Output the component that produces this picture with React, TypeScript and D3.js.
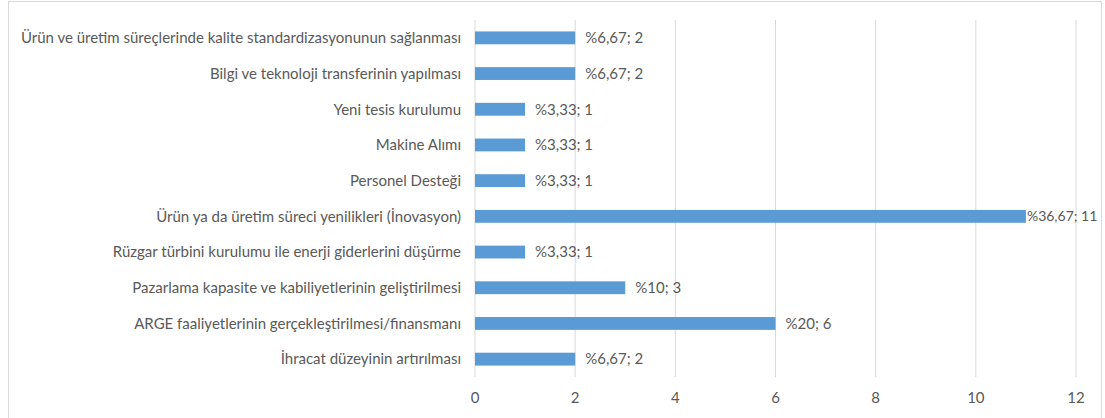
import React from "react";
import * as d3 from "d3";

const categories = [
  "Ürün ve üretim süreçlerinde kalite standardizasyonunun sağlanması",
  "Bilgi ve teknoloji transferinin yapılması",
  "Yeni tesis kurulumu",
  "Makine Alımı",
  "Personel Desteği",
  "Ürün ya da üretim süreci yenilikleri (İnovasyon)",
  "Rüzgar türbini kurulumu ile enerji giderlerini düşürme",
  "Pazarlama kapasite ve kabiliyetlerinin geliştirilmesi",
  "ARGE faaliyetlerinin gerçekleştirilmesi/finansmanı",
  "İhracat düzeyinin artırılması",
];
const counts = [2, 2, 1, 1, 1, 11, 1, 3, 6, 2];
const percents = ["6,67", "6,67", "3,33", "3,33", "3,33", "36,67", "3,33", "10", "20", "6,67"];
const ticks = [0, 2, 4, 6, 8, 10, 12];

const W = 1105;
const H = 418;
const FONT = "Lato, 'Open Sans', sans-serif";
const TEXT = "#595959";
const FS = 15;

export default function App() {
  const x = d3.scaleLinear().domain([0, 12]).range([475, 1076]);
  const y = d3.scaleBand<string>().domain(categories).range([20, 377]).paddingInner(0.64).paddingOuter(0.32);

  return (
    <svg
      width={W}
      height={H}
      style={{ position: "absolute", left: 0, top: 0, background: "#fff" }}
      fontFamily={FONT}
    >
      <rect x={8.5} y={1.5} width={1093} height={H + 4} fill="#fff" stroke="#D9D9D9" strokeWidth={1} />
      {ticks.map((t) => (
        <line key={t} x1={x(t)} x2={x(t)} y1={20} y2={377} stroke="#D9D9D9" strokeWidth={1} />
      ))}
      {ticks.map((t) => (
        <text key={"t" + t} x={x(t)} y={403} textAnchor="middle" fontSize={FS} fill={TEXT}>
          {t}
        </text>
      ))}
      {categories.map((c, i) => {
        const yc = (y(c) as number) + y.bandwidth() / 2;
        const xe = x(counts[i]);
        const wide = counts[i] >= 11;
        const lx = wide ? xe + 1 : xe + 10;
        return (
          <g key={c}>
            <rect x={x(0)} y={y(c)} width={xe - x(0)} height={y.bandwidth()} fill="#5B9BD5" />
            <text x={461} y={yc} dy="0.35em" textAnchor="end" fontSize={FS} fill={TEXT}>
              {c}
            </text>
            <text x={lx} y={yc} dy="0.35em" fontSize={wide ? 14 : FS} fill={TEXT}>
              {`%${percents[i]}; ${counts[i]}`}
            </text>
          </g>
        );
      })}
    </svg>
  );
}
